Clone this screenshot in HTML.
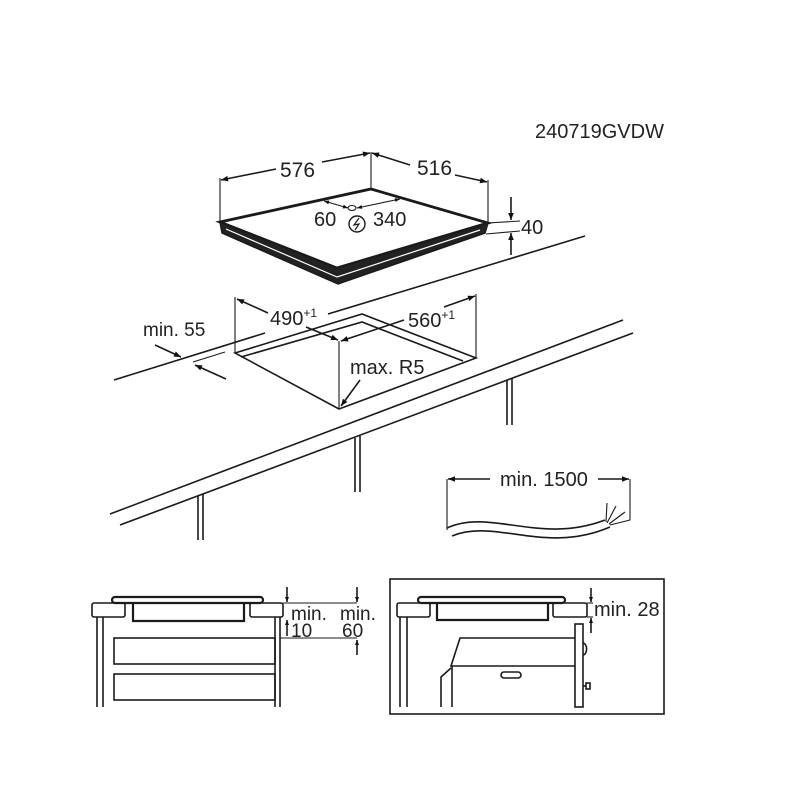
<!DOCTYPE html>
<html><head><meta charset="utf-8"><style>
html,body{margin:0;padding:0;background:#fff}
svg{display:block}
text{font-family:"Liberation Sans",Arial,sans-serif;fill:#222}
</style></head><body>
<svg width="800" height="800" viewBox="0 0 800 800" xmlns="http://www.w3.org/2000/svg">
<defs>
<marker id="a" viewBox="0 0 10 10" refX="10" refY="5" markerWidth="10" markerHeight="7" orient="auto-start-reverse" markerUnits="userSpaceOnUse"><path d="M0,1 L10,5 L0,9 z" fill="#111"/></marker>
<marker id="s" viewBox="0 0 10 10" refX="10" refY="5" markerWidth="6" markerHeight="5" orient="auto-start-reverse" markerUnits="userSpaceOnUse"><path d="M0,1 L10,5 L0,9 z" fill="#111"/></marker>
</defs>
<g stroke="#1a1a1a" fill="none" stroke-width="1.6">
<text x="535" y="138" font-size="20" stroke="none">240719GVDW</text>

<!-- hob -->
<path d="M220,222 L371,189 L488,223 L337,268 Z" stroke-width="2.8"/>
<path d="M220,222 L222,233 L338,284 L485,233 L488,223 L337,268 Z" fill="#222" stroke-width="1.5"/>
<path d="M226,229 L337,277 L480,230" stroke="#fff" stroke-width="1.2"/>
<!-- 576 / 516 -->
<line x1="220" y1="222" x2="220" y2="178" stroke-width="1.1"/>
<line x1="371" y1="189" x2="371" y2="152" stroke-width="1.1"/>
<line x1="488" y1="223" x2="488" y2="180" stroke-width="1.1"/>
<line x1="276" y1="169" x2="221" y2="180" marker-end="url(#a)"/>
<line x1="322" y1="162" x2="370" y2="153" marker-end="url(#a)"/>
<line x1="372" y1="153" x2="410" y2="165" marker-start="url(#a)"/>
<line x1="455" y1="175" x2="487" y2="182" marker-end="url(#a)"/>
<text x="280" y="177" font-size="21" stroke="none">576</text>
<text x="417" y="175" font-size="21" stroke="none">516</text>
<!-- 60 340 -->
<line x1="324" y1="201" x2="348" y2="208" stroke-width="1.1" marker-start="url(#s)" marker-end="url(#s)"/>
<line x1="357" y1="208" x2="400" y2="199" stroke-width="1.1" marker-start="url(#s)" marker-end="url(#s)"/>
<ellipse cx="352" cy="208" rx="4" ry="2.5" stroke-width="1.1"/>
<text x="314" y="226" font-size="20" stroke="none">60</text>
<text x="373" y="226" font-size="20" stroke="none">340</text>
<circle cx="357" cy="224" r="8" stroke-width="1.4"/>
<path d="M359,218 L354,225 L359,224 L355,230" stroke-width="1.2"/>
<!-- 40 -->
<line x1="488" y1="223" x2="520" y2="221" stroke-width="1.1"/>
<line x1="486" y1="234" x2="520" y2="231" stroke-width="1.1"/>
<line x1="511" y1="197" x2="511" y2="220" marker-end="url(#a)"/>
<line x1="511" y1="255" x2="511" y2="233" marker-end="url(#a)"/>
<text x="521" y="234" font-size="20" stroke="none">40</text>

<!-- countertop -->
<line x1="114" y1="380" x2="265" y2="333"/>
<line x1="328" y1="314" x2="585" y2="236"/>
<line x1="110" y1="514" x2="623" y2="320"/>
<line x1="120" y1="525" x2="633" y2="333"/>
<line x1="198" y1="496" x2="198" y2="540"/><line x1="203" y1="494" x2="203" y2="540"/>
<line x1="355" y1="438" x2="355" y2="492"/><line x1="360" y1="436" x2="360" y2="492"/>
<line x1="507" y1="380" x2="507" y2="425"/><line x1="512" y1="378" x2="512" y2="425"/>
<!-- cutout -->
<path d="M235,353 L362,314 L476,358 L339,409 Z"/>
<path d="M241,357 L362,322 L463,361"/>
<line x1="339" y1="341" x2="339" y2="409" stroke-width="1.1"/>
<line x1="235" y1="353" x2="235" y2="297" stroke-width="1.1"/>
<line x1="476" y1="358" x2="476" y2="294" stroke-width="1.1"/>
<line x1="268" y1="313" x2="237" y2="299" marker-end="url(#a)"/>
<line x1="306" y1="327" x2="338" y2="340" marker-end="url(#a)"/>
<line x1="404" y1="320" x2="341" y2="341" marker-end="url(#a)"/>
<line x1="444" y1="307" x2="475" y2="296" marker-end="url(#a)"/>
<text x="270" y="325" font-size="20" stroke="none">490<tspan font-size="12" dy="-8">+1</tspan></text>
<text x="408" y="327" font-size="20" stroke="none">560<tspan font-size="12" dy="-8">+1</tspan></text>
<text x="350" y="374" font-size="20" stroke="none">max. R5</text>
<line x1="360" y1="380" x2="341" y2="406" marker-end="url(#a)"/>
<!-- min 55 -->
<text x="143" y="336" font-size="19" stroke="none">min. 55</text>
<line x1="193" y1="362" x2="225" y2="352" stroke-width="1.1"/>
<line x1="155" y1="345" x2="181" y2="357" marker-end="url(#a)"/>
<line x1="226" y1="379" x2="195" y2="365" marker-end="url(#a)"/>

<!-- cable -->
<line x1="447" y1="479" x2="447" y2="530" stroke-width="1.1"/>
<line x1="630" y1="479" x2="630" y2="520" stroke-width="1.1"/>
<line x1="490" y1="479" x2="448" y2="479" marker-end="url(#a)"/>
<line x1="598" y1="479" x2="629" y2="479" marker-end="url(#a)"/>
<text x="500" y="486" font-size="20" stroke="none">min. 1500</text>
<path d="M447,528 C490,508 540,545 605,520"/>
<path d="M452,536 C495,518 545,555 610,527"/>
<path d="M606,522 L607,503 M607,523 L616,506 M609,524 L625,512 M610,525 L630,520" stroke-width="1.1"/>

<!-- bottom left -->
<rect x="112" y="597" width="151" height="6" rx="3" stroke-width="2.2"/>
<rect x="92" y="603" width="33" height="14" rx="2"/>
<rect x="250" y="603" width="33" height="14" rx="2"/>
<path d="M133,603 L133,621 L244,621 L244,603" stroke-width="2.2"/>
<line x1="97" y1="617" x2="97" y2="707"/><line x1="103" y1="617" x2="103" y2="707"/>
<line x1="275" y1="617" x2="275" y2="707"/><line x1="280" y1="617" x2="280" y2="707"/>
<rect x="114" y="638" width="161" height="26"/>
<rect x="114" y="674" width="161" height="26"/>
<line x1="283" y1="603" x2="357" y2="603" stroke-width="1.1"/>
<line x1="280" y1="638" x2="357" y2="638" stroke-width="1.1"/>
<line x1="287" y1="587" x2="287" y2="602" marker-end="url(#s)"/>
<line x1="287" y1="636" x2="287" y2="620" marker-end="url(#s)"/>
<line x1="357" y1="587" x2="357" y2="602" marker-end="url(#s)"/>
<line x1="357" y1="655" x2="357" y2="640" marker-end="url(#s)"/>
<text x="291" y="620" font-size="19" stroke="none">min.</text>
<text x="291" y="637" font-size="19" stroke="none">10</text>
<text x="340" y="620" font-size="19" stroke="none">min.</text>
<text x="342" y="637" font-size="19" stroke="none">60</text>

<!-- bottom right -->
<rect x="390" y="579" width="274" height="135"/>
<rect x="418" y="597" width="147" height="6" rx="3" stroke-width="2.2"/>
<rect x="397" y="603" width="33" height="14" rx="2"/>
<rect x="553" y="603" width="34" height="14" rx="2"/>
<path d="M437,603 L437,620 L548,620 L548,603" stroke-width="2.2"/>
<line x1="400" y1="617" x2="400" y2="707"/><line x1="407" y1="617" x2="407" y2="707"/>
<rect x="575" y="624" width="8" height="83"/>
<path d="M583,643 a3,5 0 0 1 0,12"/>
<rect x="586" y="683" width="4" height="6"/>
<line x1="583" y1="686" x2="586" y2="686"/>
<path d="M575,638 L460,638 L451,666 L575,666"/>
<line x1="452" y1="666" x2="452" y2="707"/>
<path d="M441,707 L441,677 L451,668"/>
<rect x="501" y="672" width="20" height="6" rx="3"/>
<line x1="587" y1="603" x2="593" y2="603" stroke-width="1.1"/>
<line x1="587" y1="617" x2="593" y2="617" stroke-width="1.1"/>
<line x1="591" y1="588" x2="591" y2="602" marker-end="url(#s)"/>
<line x1="591" y1="633" x2="591" y2="618" marker-end="url(#s)"/>
<text x="594" y="616" font-size="20" stroke="none">min. 28</text>
</g>
</svg>
</body></html>
